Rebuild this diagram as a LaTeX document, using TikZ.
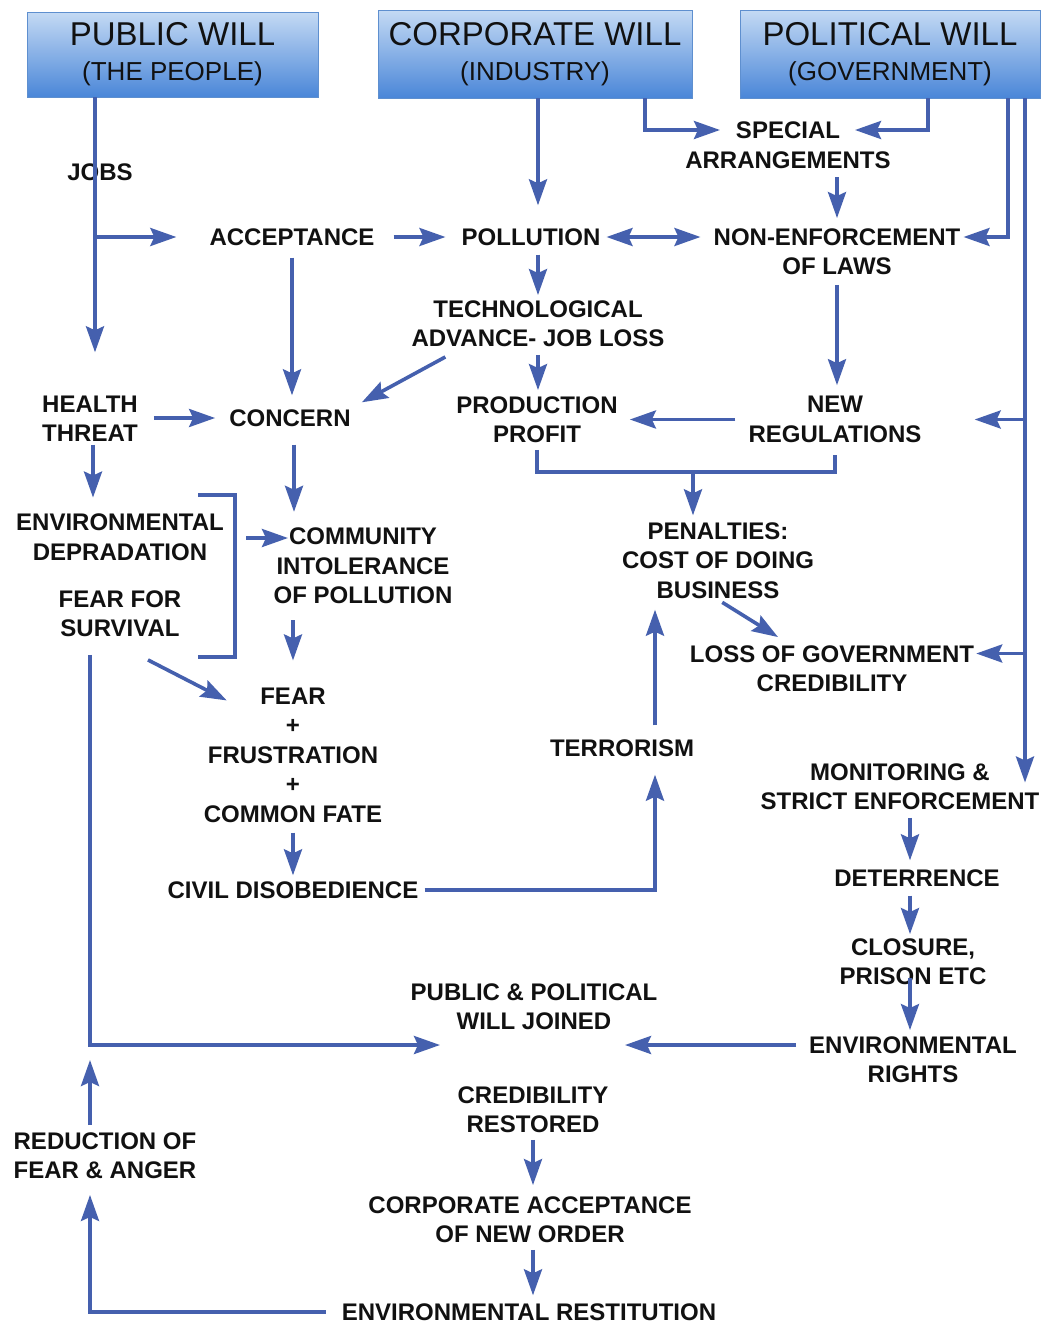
\documentclass[tikz,border=0pt]{standalone}
\usepackage{fontspec}
\setmainfont{Liberation Sans}
\usetikzlibrary{arrows.meta,positioning}
\definecolor{ink}{HTML}{111111}
\definecolor{flow}{HTML}{4560AE}
\definecolor{boxtop}{HTML}{C4DAF4}
\definecolor{boxmid}{HTML}{6AA0E6}
\definecolor{boxbot}{HTML}{4A86D8}
\definecolor{boxedge}{HTML}{5E8FCF}

\begin{document}
\begin{tikzpicture}[
  x=1pt, y=-1pt,
  text=ink,
  box/.style={
    top color=boxtop,
    middle color=boxmid,
    bottom color=boxbot,
    draw=boxedge,
    line width=0.8pt,
    align=center,
    inner sep=0pt,
    font=\fontsize{26}{35}\selectfont
  },
  lbl/.style={font=\fontsize{24}{29.5}\selectfont\bfseries, align=center, inner sep=1pt},
  arrow/.style={-{Stealth[length=26pt,width=18pt,inset=4pt]}, line width=3.6pt, draw=flow},
  twoway/.style={{Stealth[length=26pt,width=18pt,inset=4pt]}-{Stealth[length=26pt,width=18pt,inset=4pt]}, line width=3.6pt, draw=flow},
  link/.style={line width=3.6pt, draw=flow}
]
\useasboundingbox[fill=white] (0,0) rectangle (1051,1326);

% The three wills
\node[box, minimum width=291pt, minimum height=85pt] (pub) at (172.5,54.5) {{\fontsize{33}{35}\selectfont PUBLIC WILL}\\(THE PEOPLE)};
\node[box, minimum width=314pt, minimum height=88pt] (corp) at (535,54) {{\fontsize{33}{35}\selectfont CORPORATE WILL}\\(INDUSTRY)};
\node[box, minimum width=300pt, minimum height=88pt] (pol) at (890,54) {{\fontsize{33}{35}\selectfont POLITICAL WILL}\\(GOVERNMENT)};

% Upper chain
\node[lbl] (jobs) at (100,172) {JOBS};
\node[lbl] (accept) at (292,237) {ACCEPTANCE};
\node[lbl] (pollution) at (531,237) {POLLUTION};
\node[lbl] (special) at (788,145) {SPECIAL\\ARRANGEMENTS};
\node[lbl] (nonenf) at (837,251.5) {NON-ENFORCEMENT\\OF LAWS};
\node[lbl] (tech) at (538,323.5) {TECHNOLOGICAL\\ADVANCE- JOB LOSS};
\node[lbl] (health) at (90,418.5) {HEALTH\\THREAT};
\node[lbl] (concern) at (290,418) {CONCERN};
\node[lbl] (prod) at (537,419.5) {PRODUCTION\\PROFIT};
\node[lbl] (newreg) at (835,419.5) {NEW\\REGULATIONS};

% Middle chain
\node[lbl] (envdeg) at (120,537) {ENVIRONMENTAL\\DEPRADATION};
\node[lbl] (fearsurv) at (120,613.5) {FEAR FOR\\SURVIVAL};
\node[lbl] (community) at (363,566) {COMMUNITY\\INTOLERANCE\\OF POLLUTION};
\node[lbl] (penalties) at (718,560.5) {PENALTIES:\\COST OF DOING\\BUSINESS};
\node[lbl] (lossgov) at (832,668.5) {LOSS OF GOVERNMENT\\CREDIBILITY};
\node[lbl] (fear) at (293,755) {FEAR\\+\\FRUSTRATION\\+\\COMMON FATE};
\node[lbl] (terror) at (622,748) {TERRORISM};
\node[lbl] (monitor) at (900,786.5) {MONITORING \&\\STRICT ENFORCEMENT};
\node[lbl] (civil) at (293,890) {CIVIL DISOBEDIENCE};
\node[lbl] (deter) at (917,878) {DETERRENCE};

% Lower chain
\node[lbl] (closure) at (913,961.5) {CLOSURE,\\PRISON ETC};
\node[lbl] (pubpol) at (534,1006.5) {PUBLIC \& POLITICAL\\WILL JOINED};
\node[lbl] (envrights) at (913,1059.5) {ENVIRONMENTAL\\RIGHTS};
\node[lbl] (credib) at (533,1109.5) {CREDIBILITY\\RESTORED};
\node[lbl] (reduction) at (105,1155.5) {REDUCTION OF\\FEAR \& ANGER};
\node[lbl] (corpacc) at (530,1219.5) {CORPORATE ACCEPTANCE\\OF NEW ORDER};
\node[lbl] (restit) at (529,1312) {ENVIRONMENTAL RESTITUTION};

% Junctions and free ends
\coordinate (jpub) at (95,237);
\coordinate (jpol) at ([xshift=135pt]pol.south);
\coordinate (spl) at (720,130);
\coordinate (spr) at (855,130);
\coordinate (brtop) at (198,495);
\coordinate (brbot) at (198,657);
\coordinate (brin) at (246,538);
\coordinate (commin) at (288,538);
\coordinate (pjoin) at (693,472);
\coordinate (jleft) at (90,1045);
\coordinate (ppl) at (440,1045);
\coordinate (ppr) at (625,1045);
\path ([yshift=15pt]lossgov.east) coordinate (lgin);

% Public will
\draw[arrow, shorten >=42pt] (pub.south -| jpub) -- (jpub |- health.north);
\draw[arrow, shorten >=32pt] (jpub) -- (jpub -| accept.west);
\draw[arrow, shorten <=18pt, shorten >=15pt] (accept) -- (pollution);
\draw[arrow, shorten <=11pt, shorten >=13pt] (accept.south) -- (accept.south |- concern.north);
\draw[arrow, shorten <=15pt, shorten >=13pt] (health.east |- concern) -- (concern.west);
\draw[arrow, shorten <=2pt, shorten >=15pt] ([xshift=3pt]health.south) -- ([xshift=3pt]health.south |- envdeg.north);
\draw[arrow, shorten <=17pt, shorten >=15pt] ([xshift=4pt]concern.south) -- ([xshift=4pt]concern.south |- community.north);
\draw[link] (brtop) -- ++(37,0) |- (brbot);
\draw[arrow] (brin) -- (commin);
\draw[arrow, shorten <=15pt, shorten >=26pt] (community.south -| fear) -- (fear.north);
\draw[arrow] ([xshift=28pt,yshift=-22pt]fearsurv.south) -- ([xshift=24pt,yshift=-14pt]fear.north west);
\draw[arrow, shorten <=9pt, shorten >=5pt] (fear.south) -- (civil.north);
\draw[arrow, shorten <=5pt, shorten >=17pt] (civil.east) -| ([xshift=33pt]terror.south);
\draw[arrow, shorten <=13pt, shorten >=10pt] ([xshift=33pt]terror.north) -- ([xshift=33pt]terror.north |- penalties.south);

% Corporate will
\draw[arrow, shorten >=22pt] ([xshift=3pt]corp.south) -- ([xshift=3pt]corp.south |- pollution.north);
\draw[arrow] ([xshift=110pt]corp.south) |- (spl);
\draw[twoway, shorten <=5pt, shorten >=12pt] (pollution.east) -- (pollution.east -| nonenf.west);
\draw[arrow, shorten <=8pt, shorten >=4pt] (pollution.south -| tech) -- (tech.north);
\draw[arrow, shorten <=7pt, shorten >=5pt] (tech.south) -- (tech.south |- prod.north);
\draw[arrow] ([xshift=35pt,yshift=-9pt]tech.south west) -- ([xshift=10pt,yshift=6pt]concern.north east);
\draw[arrow, shorten <=12pt, shorten >=11pt] (newreg.west) -- (prod.east);
\draw[link] ([yshift=-6pt]prod.south) -- ++(0,22) -| ([yshift=-11pt]newreg.south);
\draw[arrow, shorten >=6pt] (pjoin) -- (pjoin |- penalties.north);
\draw[arrow, shorten <=5pt] (penalties.south) -- ([xshift=-54pt,yshift=7pt]lossgov.north);

% Political will
\draw[arrow] ([xshift=38pt]pol.south) |- (spr);
\draw[arrow, shorten <=8pt, shorten >=9pt] (special.south -| nonenf) -- (nonenf.north);
\draw[arrow, shorten >=2pt] ([xshift=118pt]pol.south) |- (pollution -| nonenf.east);
\draw[arrow, shorten <=9pt, shorten >=10pt] (nonenf.south) -- (nonenf.south |- newreg.north);
\draw[arrow, shorten >=4pt] (jpol) -- (jpol |- monitor);
\draw[arrow, shorten >=52pt] (jpol |- newreg) -- (newreg.east);
\draw[arrow, shorten >=1pt] (jpol |- lgin) -- (lgin);
\draw[arrow, shorten <=7pt, shorten >=8pt] ([xshift=10pt]monitor.south) -- ([xshift=10pt]monitor.south |- deter.north);
\draw[arrow, shorten <=8pt, shorten >=3pt] ([xshift=-7pt]deter.south) -- ([xshift=-7pt]deter.south |- closure.north);
\draw[arrow, shorten <=-8pt, shorten >=5pt] ([xshift=-3pt]closure.south) -- ([xshift=-3pt]closure.south |- envrights.north);

% Joined will and restitution loop
\draw[arrow, shorten <=12pt] (envrights.west |- ppr) -- (ppr);
\draw[arrow, shorten <=17pt] ([xshift=-30pt]fearsurv.south) |- (ppl);
\draw[arrow, shorten <=6pt, shorten >=15pt] (reduction.north -| jleft) -- (jleft);
\draw[arrow, shorten <=6pt, shorten >=10pt] (credib.south) -- (credib.south |- corpacc.north);
\draw[arrow, shorten <=6pt, shorten >=7pt] ([xshift=3pt]corpacc.south) -- ([xshift=3pt]corpacc.south |- restit.north);
\draw[arrow, shorten <=15pt, shorten >=15pt] (restit.west) -| (reduction.south -| jleft);

\end{tikzpicture}
\end{document}
